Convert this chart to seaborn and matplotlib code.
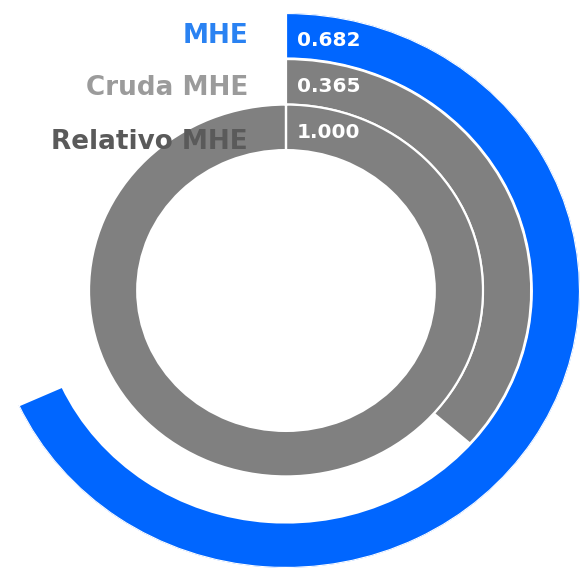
import numpy as np
import matplotlib
matplotlib.use("Agg")
import matplotlib.pyplot as plt
import matplotlib.transforms as mtransforms
import seaborn as sns

# data (outer ring first)
labels = ["MHE", "Cruda MHE", "Relativo MHE"]
values = [0.682, 0.365, 1.000]
value_text = ["0.682", "0.365", "1.000"]

# styles
bar_colors = ["#0066FF", "#808080", "#808080"]
label_colors = ["#2A82F2", "#9B9B9B", "#5A5A5A"]
ring_bottoms = [0.836, 0.670, 0.506]
ring_height = 0.164

sns.set_theme(style="white")
plt.rcParams["font.family"] = ["DejaVu Sans"]

W, H = 585, 568
fig = plt.figure(figsize=(W / 100, H / 100), dpi=100)

# the rings are slightly wider than tall in the reference
cx, cy = 286, 290.5
rx, ry = 294, 277.5
ax = fig.add_axes([(cx - rx) / W, (H - cy - ry) / H, 2 * rx / W, 2 * ry / H],
                  projection="polar")
ax.set_aspect("auto")
ax.set_theta_zero_location("N")
ax.set_theta_direction(-1)
ax.set_ylim(0, 1)
ax.axis("off")

for val, color, bottom in zip(values, bar_colors, ring_bottoms):
    ax.bar(0, ring_height, width=val * 2 * np.pi, bottom=bottom, align="edge",
           color=color, edgecolor="white", linewidth=1.6)

# value labels inside each ring, just after the start line
for txt, bottom in zip(value_text, ring_bottoms):
    tr = mtransforms.offset_copy(ax.transData, fig=fig, x=11, y=-5, units="dots")
    ax.text(0, bottom + ring_height / 2, txt, transform=tr, ha="left", va="center",
            color="white", fontsize=14.5, fontweight="bold")

# series names to the left of the start line
label_y = [36, 88, 142]
for name, color, yy in zip(labels, label_colors, label_y):
    fig.text(248 / W, 1 - yy / H, name, ha="right", va="center",
             color=color, fontsize=18.9, fontweight="bold")

fig.savefig("out.png", dpi=100)
